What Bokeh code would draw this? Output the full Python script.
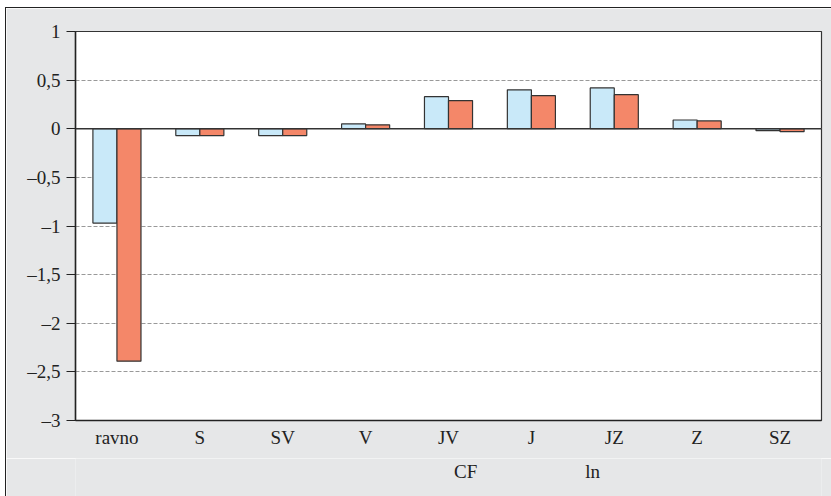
from bokeh.plotting import figure
from bokeh.layouts import column
from bokeh.models import Range1d, FactorRange, FixedTicker, Span, Legend, LegendItem, ColumnDataSource
from bokeh.transform import dodge
from bokeh.embed import file_html
from bokeh.resources import INLINE

categories = ["ravno", "S", "SV", "V", "JV", "J", "JZ", "Z", "SZ"]
cf_values = [-0.97, -0.07, -0.07, 0.05, 0.33, 0.40, 0.42, 0.09, -0.02]
ln_values = [-2.39, -0.07, -0.07, 0.04, 0.29, 0.34, 0.35, 0.08, -0.03]
series_names = ["CF", "ln"]
y_ticks = [-3, -2.5, -2, -1.5, -1, -0.5, 0, 0.5, 1]
y_tick_labels = ["\u20133", "\u20132,5", "\u20132", "\u20131,5", "\u20131", "\u20130,5", "0", "0,5", "1"]

FONT = "Liberation Serif"
BG = "#E6E7E8"
CF_COLOR = "#C9E9F9"
LN_COLOR = "#F48769"

src = ColumnDataSource(dict(cat=categories, cf=cf_values, ln=ln_values))

p = figure(x_range=FactorRange(*categories), y_range=Range1d(-3, 1),
           width=825, height=450, output_backend="svg", toolbar_location=None,
           min_border_left=69, min_border_right=10, min_border_top=23, min_border_bottom=38)
p.border_fill_color = BG
p.background_fill_color = "white"
p.outline_line_color = "#333"
p.outline_line_width = 1.2

r_cf = p.vbar(x=dodge("cat", -0.145, range=p.x_range), top="cf", width=0.29, source=src,
              fill_color=CF_COLOR, line_color="#333333", line_width=1.2)
r_ln = p.vbar(x=dodge("cat", 0.145, range=p.x_range), top="ln", width=0.29, source=src,
              fill_color=LN_COLOR, line_color="#333333", line_width=1.2)

p.add_layout(Span(location=0, dimension="width", line_color="#333333", line_width=1.5))

p.xgrid.grid_line_color = None
p.ygrid.ticker = FixedTicker(ticks=y_ticks)
p.ygrid.grid_line_color = "#999999"
p.ygrid.grid_line_dash = "4 2"
p.ygrid.grid_line_width = 1

p.yaxis.ticker = FixedTicker(ticks=y_ticks)
p.yaxis.major_label_overrides = {t: l for t, l in zip(y_ticks, y_tick_labels)}
p.yaxis.major_tick_in = 0
p.yaxis.major_tick_out = 9
p.yaxis.minor_tick_line_color = None
p.yaxis.axis_line_color = "#222222"
p.yaxis.axis_line_width = 1.5
p.yaxis.major_tick_line_color = "#222222"
p.yaxis.major_label_standoff = 6
p.yaxis.major_label_text_font = FONT
p.yaxis.major_label_text_font_size = "19px"
p.yaxis.major_label_text_color = "#222222"

p.xaxis.major_tick_line_color = None
p.xaxis.minor_tick_line_color = None
p.xaxis.major_tick_out = 0
p.xaxis.major_tick_in = 0
p.xaxis.axis_line_color = "#222222"
p.xaxis.axis_line_width = 1.5
p.xaxis.major_label_standoff = 6
p.xaxis.major_label_text_font = FONT
p.xaxis.major_label_text_font_size = "19px"
p.xaxis.major_label_text_color = "#222222"

# legend strip below the chart
lg = figure(width=825, height=38, x_range=Range1d(0, 1), y_range=Range1d(0, 1),
            output_backend="svg", toolbar_location=None, x_axis_type=None, y_axis_type=None,
            min_border_left=0, min_border_right=0, min_border_top=0, min_border_bottom=0)
lg.background_fill_color = BG
lg.border_fill_color = BG
lg.outline_line_color = None
lg.xgrid.grid_line_color = None
lg.ygrid.grid_line_color = None
lr_cf = lg.vbar(x=[], top=[], width=0.1, fill_color=CF_COLOR, line_color="#333333", line_width=1.2)
lr_ln = lg.vbar(x=[], top=[], width=0.1, fill_color=LN_COLOR, line_color="#333333", line_width=1.2)

legend = Legend(items=[LegendItem(label=series_names[0], renderers=[lr_cf]),
                       LegendItem(label=series_names[1], renderers=[lr_ln])],
                location=(358, 13), orientation="horizontal", padding=0, margin=0, spacing=87,
                border_line_alpha=0, background_fill_alpha=0, glyph_width=16, glyph_height=16,
                label_standoff=5, label_text_font=FONT, label_text_font_size="19px",
                label_text_color="#222222")
lg.add_layout(legend, "center")

layout = column(p, lg, spacing=0,
                styles={"outline": "1.5px solid #222", "margin-left": "6px", "margin-top": "8px"})

open("out.html", "w").write(file_html(layout, INLINE))
